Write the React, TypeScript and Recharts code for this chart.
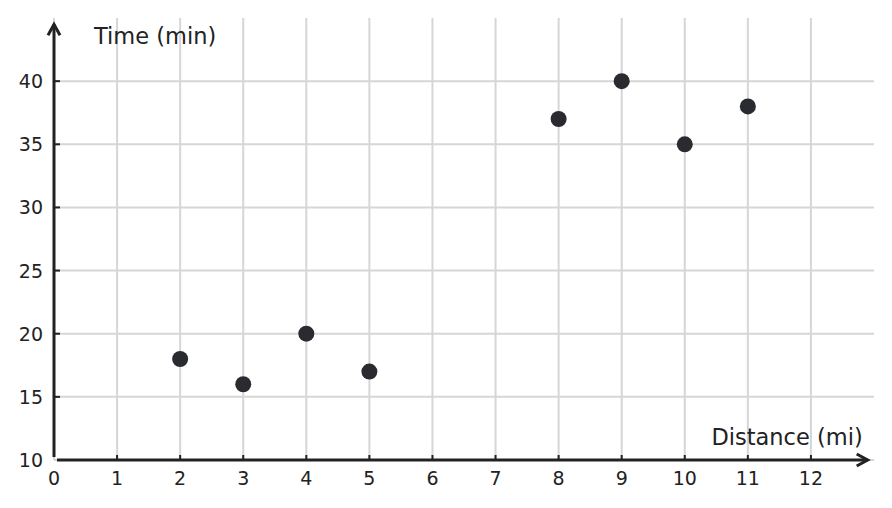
import {
  ScatterChart,
  Scatter,
  XAxis,
  YAxis,
  CartesianGrid,
  ReferenceLine,
} from "recharts";

const distances = [2, 3, 4, 5, 8, 9, 10, 11];
const times = [18, 16, 20, 17, 37, 40, 35, 38];

const xTicks = [0, 1, 2, 3, 4, 5, 6, 7, 8, 9, 10, 11, 12];
const yTicks = [10, 15, 20, 25, 30, 35, 40];

const xLabel = "Distance (mi)";
const yLabel = "Time (min)";

const data = distances.map((d, i) => ({ distance: d, time: times[i] }));

const FONT = "DejaVu Sans";
const INK = "#222222";
const DOT = "#2a2a31";

function XTick(props: any) {
  const { x, y, payload } = props;
  return (
    <g>
      {payload.value !== 0 && (
        <line x1={x} y1={y} x2={x} y2={y - 5} stroke={INK} strokeWidth={2} />
      )}
      <text
        x={x}
        y={y + 25}
        textAnchor="middle"
        fontFamily={FONT}
        fontSize={19}
        fill={INK}
      >
        {payload.value}
      </text>
    </g>
  );
}

function YTick(props: any) {
  const { x, y, payload } = props;
  return (
    <g>
      {payload.value !== 10 && (
        <line x1={x} y1={y} x2={x + 6} y2={y} stroke={INK} strokeWidth={2} />
      )}
      <text
        x={x - 11}
        y={y + 7}
        textAnchor="end"
        fontFamily={FONT}
        fontSize={19}
        fill={INK}
      >
        {payload.value}
      </text>
    </g>
  );
}

function XArrow(p: any) {
  const { x1, y1, x2, y2 } = p;
  return (
    <g>
      <line x1={x1 + 3} y1={y1} x2={x2} y2={y2} stroke={INK} strokeWidth={3} />
      <path
        d={`M${x2 - 11},${y2 - 6} L${x2},${y2} L${x2 - 11},${y2 + 6}`}
        stroke={INK}
        strokeWidth={3}
        fill="none"
      />
      <text
        x={x2 - 5}
        y={y2 - 15}
        textAnchor="end"
        fontFamily={FONT}
        fontSize={22.5}
        fill={INK}
      >
        {xLabel}
      </text>
    </g>
  );
}

function YArrow(p: any) {
  const { x1, y1, x2, y2 } = p;
  return (
    <g>
      <line x1={x1} y1={y1 - 3} x2={x2} y2={y2} stroke={INK} strokeWidth={3} />
      <path
        d={`M${x2 - 6},${y2 + 11} L${x2},${y2} L${x2 + 6},${y2 + 11}`}
        stroke={INK}
        strokeWidth={3}
        fill="none"
      />
      <text
        x={x2 + 40}
        y={y2 + 20}
        textAnchor="start"
        fontFamily={FONT}
        fontSize={22.5}
        fill={INK}
      >
        {yLabel}
      </text>
    </g>
  );
}

export default function App() {
  return (
    <div style={{ position: "absolute", left: 0, top: 0 }}>
      <ScatterChart
        width={892}
        height={508}
        margin={{ top: 18, right: 18, left: 10, bottom: 18 }}
      >
        <CartesianGrid
          stroke="#d6d6d6"
          strokeWidth={2}
          syncWithTicks
          horizontalValues={yTicks}
          verticalValues={xTicks}
        />
        <XAxis
          type="number"
          dataKey="distance"
          domain={[0, 13]}
          ticks={xTicks}
          height={30}
          axisLine={false}
          tickLine={false}
          tickSize={0}
          tickMargin={0}
          tick={<XTick />}
          interval={0}
        />
        <YAxis
          type="number"
          dataKey="time"
          domain={[10, 45]}
          ticks={yTicks}
          width={44}
          axisLine={false}
          tickLine={false}
          tickSize={0}
          tickMargin={0}
          tick={<YTick />}
          interval={0}
        />
        <ReferenceLine
          segment={[
            { x: 0, y: 10 },
            { x: 12.9, y: 10 },
          ]}
          ifOverflow="visible"
          shape={(p: any) => <XArrow {...p} />}
        />
        <ReferenceLine
          segment={[
            { x: 0, y: 10 },
            { x: 0, y: 44.5 },
          ]}
          ifOverflow="visible"
          shape={(p: any) => <YArrow {...p} />}
        />
        <Scatter
          data={data}
          isAnimationActive={false}
          shape={(p: any) => <circle cx={p.cx} cy={p.cy} r={8} fill={DOT} />}
        />
      </ScatterChart>
    </div>
  );
}
